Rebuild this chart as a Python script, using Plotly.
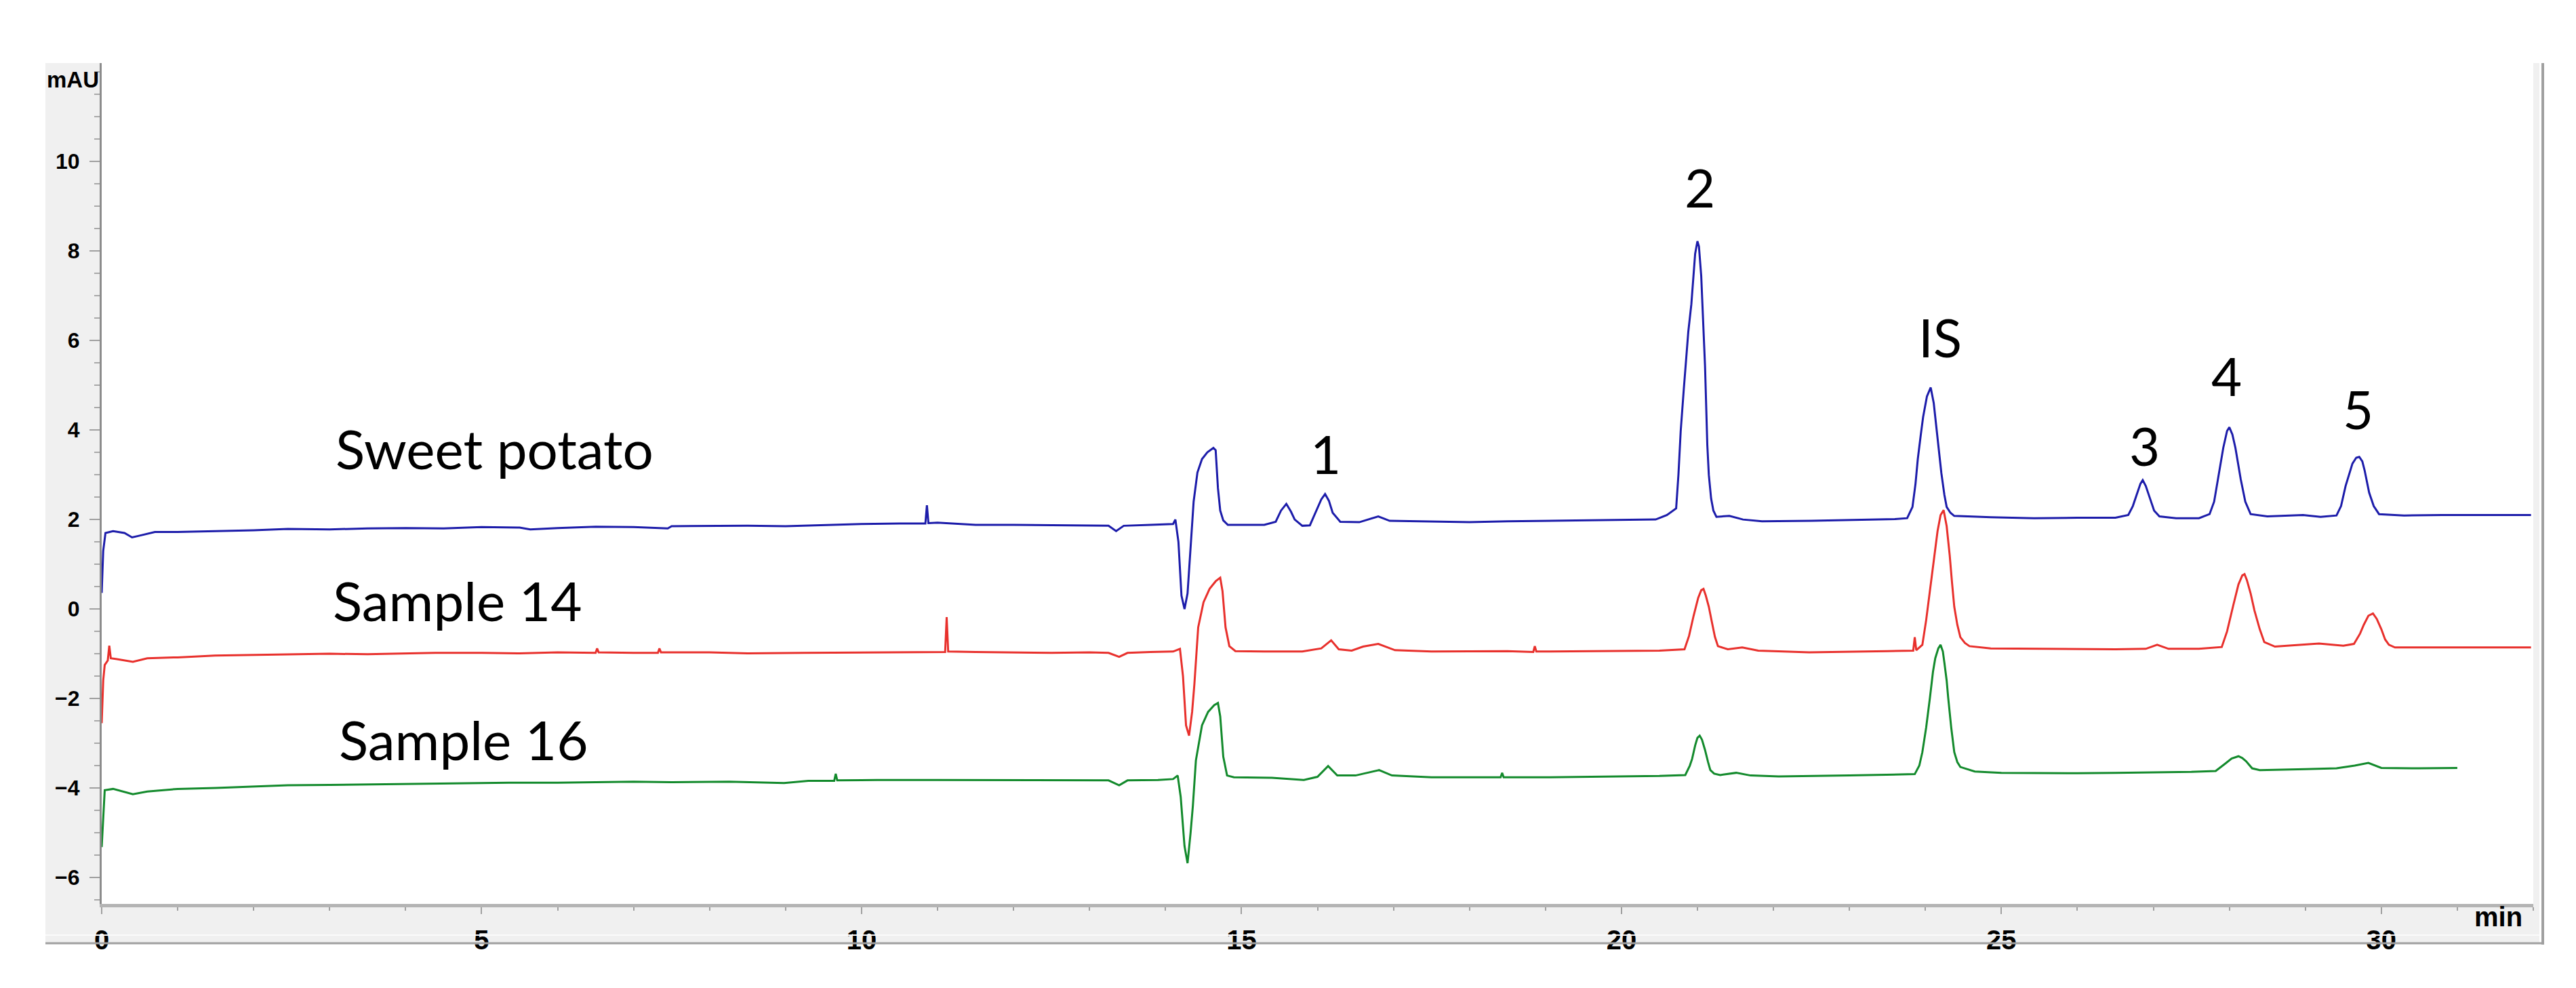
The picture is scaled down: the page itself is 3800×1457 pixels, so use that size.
import plotly.graph_objects as go

# ---------------- data ----------------
blue_t = [0.00, 0.02, 0.05, 0.15, 0.30, 0.40, 0.50, 0.70, 1.0, 1.5, 2.0, 2.45, 3.0, 3.5, 4.0, 4.5,
          5.0, 5.5, 5.64, 6.0, 6.5, 7.0, 7.45, 7.5, 8.0, 8.5, 9.0, 9.5, 10.0, 10.5, 10.84, 10.86,
          10.88, 11.0, 11.5, 12.0, 12.5, 13.0, 13.25, 13.35, 13.45, 13.8, 14.10, 14.13, 14.17,
          14.21, 14.25, 14.29, 14.33, 14.37, 14.42, 14.48, 14.55, 14.63, 14.66, 14.69, 14.72,
          14.76, 14.82, 15.0, 15.3, 15.45, 15.52, 15.59, 15.65, 15.70, 15.80, 15.90, 16.00, 16.05,
          16.10, 16.15, 16.20, 16.30, 16.55, 16.80, 16.95, 17.5, 18.0, 18.5, 19.0, 19.5, 20.0,
          20.45, 20.60, 20.72, 20.75, 20.78, 20.82, 20.85, 20.88, 20.92, 20.95, 20.97, 21.00,
          21.02, 21.05, 21.07, 21.10, 21.13, 21.15, 21.18, 21.21, 21.25, 21.42, 21.60, 21.85,
          22.5, 23.15, 23.6, 23.76, 23.83, 23.87, 23.90, 23.94, 23.97, 24.02, 24.07, 24.11,
          24.14, 24.18, 24.21, 24.25, 24.28, 24.33, 24.38, 24.86, 25.43, 26.0, 26.5, 26.67,
          26.73, 26.78, 26.83, 26.86, 26.90, 26.95, 27.01, 27.08, 27.3, 27.6, 27.74, 27.80,
          27.85, 27.92, 27.97, 28.00, 28.04, 28.08, 28.15, 28.21, 28.28, 28.5, 28.97, 29.2,
          29.41, 29.47, 29.53, 29.62, 29.67, 29.71, 29.75, 29.78, 29.84, 29.90, 29.97, 30.3,
          30.8, 31.3, 31.97]
blue_v = [0.36, 1.30, 1.70, 1.74, 1.70, 1.60, 1.64, 1.72, 1.72, 1.74, 1.76, 1.79, 1.78, 1.80, 1.81,
          1.80, 1.83, 1.82, 1.78, 1.81, 1.84, 1.83, 1.80, 1.85, 1.86, 1.86, 1.85, 1.88, 1.90, 1.91,
          1.91, 2.32, 1.92, 1.93, 1.88, 1.88, 1.87, 1.87, 1.86, 1.74, 1.86, 1.88, 1.90, 2.00,
          1.50, 0.30, 0.00, 0.35, 1.30, 2.40, 3.05, 3.35, 3.50, 3.60, 3.55, 2.70, 2.20, 1.98,
          1.88, 1.88, 1.88, 1.95, 2.20, 2.35, 2.18, 2.00, 1.86, 1.87, 2.25, 2.45, 2.57, 2.42,
          2.15, 1.95, 1.94, 2.07, 1.97, 1.95, 1.94, 1.96, 1.97, 1.98, 1.99, 2.00, 2.10, 2.25,
          3.00, 3.98, 4.90, 5.55, 6.20, 6.81, 7.50, 7.94, 8.22, 8.10, 7.44, 6.60, 5.43, 3.67,
          3.00, 2.47, 2.20, 2.06, 2.08, 2.00, 1.96, 1.97, 2.00, 2.01, 2.03, 2.28, 2.80, 3.35,
          3.90, 4.29, 4.75, 4.95, 4.60, 4.10, 3.50, 3.04, 2.55, 2.28, 2.15, 2.08, 2.05, 2.03,
          2.04, 2.04, 2.10, 2.30, 2.55, 2.80, 2.88, 2.75, 2.50, 2.20, 2.07, 2.03, 2.03, 2.12,
          2.40, 2.90, 3.60, 3.98, 4.06, 3.90, 3.60, 2.90, 2.40, 2.12, 2.07, 2.10, 2.06, 2.09,
          2.30, 2.75, 3.25, 3.38, 3.40, 3.30, 3.10, 2.60, 2.30, 2.12, 2.09, 2.10, 2.10, 2.10]

red_t = [0.00, 0.02, 0.04, 0.08, 0.10, 0.12, 0.20, 0.41, 0.60, 1.0, 1.49, 2.0, 2.5, 3.0, 3.5, 4.0,
         4.39, 5.0, 5.5, 6.0, 6.50, 6.52, 6.54, 7.0, 7.32, 7.34, 7.36, 8.0, 8.5, 9.24, 10.0, 10.5,
         11.10, 11.12, 11.14, 11.5, 12.0, 12.5, 13.0, 13.25, 13.39, 13.5, 13.8, 14.10, 14.19,
         14.23, 14.27, 14.31, 14.35, 14.38, 14.43, 14.50, 14.58, 14.66, 14.72, 14.75, 14.79,
         14.84, 14.92, 15.3, 15.8, 16.05, 16.18, 16.28, 16.45, 16.6, 16.8, 17.02, 17.5, 18.0,
         18.5, 18.84, 18.86, 18.88, 19.5, 20.0, 20.5, 20.83, 20.89, 20.95, 21.01, 21.05, 21.08,
         21.11, 21.15, 21.19, 21.23, 21.27, 21.40, 21.59, 21.80, 22.47, 23.0, 23.5, 23.84,
         23.86, 23.88, 23.96, 24.01, 24.06, 24.11, 24.16, 24.20, 24.24, 24.28, 24.32, 24.35,
         24.38, 24.42, 24.46, 24.52, 24.58, 24.86, 25.5, 26.0, 26.5, 26.9, 27.05, 27.2, 27.6,
         27.90, 27.97, 28.05, 28.12, 28.17, 28.20, 28.23, 28.28, 28.33, 28.40, 28.46, 28.6,
         29.18, 29.5, 29.64, 29.72, 29.77, 29.83, 29.89, 29.94, 30.00, 30.05, 30.10, 30.18,
         30.6, 31.0, 31.5, 31.97]
red_v = [-2.55, -1.60, -1.25, -1.15, -0.82, -1.10, -1.12, -1.18, -1.10, -1.08, -1.04, -1.03,
         -1.02, -1.00, -1.01, -0.99, -0.98, -0.98, -0.99, -0.97, -0.98, -0.88, -0.97, -0.98,
         -0.98, -0.88, -0.97, -0.97, -0.99, -0.98, -0.97, -0.96, -0.96, -0.18, -0.95, -0.96,
         -0.97, -0.98, -0.97, -0.98, -1.07, -0.98, -0.96, -0.95, -0.89, -1.50, -2.60, -2.83,
         -2.30, -1.68, -0.41, 0.15, 0.45, 0.62, 0.70, 0.40, -0.41, -0.83, -0.94, -0.95, -0.95,
         -0.88, -0.70, -0.90, -0.93, -0.84, -0.78, -0.92, -0.95, -0.95, -0.94, -0.96, -0.83,
         -0.95, -0.94, -0.94, -0.93, -0.90, -0.60, -0.15, 0.25, 0.42, 0.45, 0.30, 0.05, -0.29,
         -0.62, -0.83, -0.90, -0.86, -0.93, -0.97, -0.95, -0.94, -0.93, -0.63, -0.92, -0.80,
         -0.25, 0.39, 1.10, 1.74, 2.10, 2.21, 1.85, 1.20, 0.60, 0.05, -0.35, -0.63, -0.76,
         -0.83, -0.88, -0.89, -0.90, -0.90, -0.89, -0.80, -0.89, -0.89, -0.85, -0.50, 0.07,
         0.55, 0.75, 0.78, 0.65, 0.35, -0.03, -0.45, -0.74, -0.84, -0.77, -0.82, -0.78, -0.55,
         -0.35, -0.15, -0.10, -0.22, -0.45, -0.68, -0.80, -0.86, -0.86, -0.86, -0.85, -0.86]

green_t = [0.00, 0.02, 0.04, 0.15, 0.41, 0.6, 1.0, 1.5, 2.0, 2.45, 3.0, 3.5, 4.0, 5.0, 5.36, 6.0,
           6.5, 7.0, 7.5, 8.26, 8.98, 9.3, 9.64, 9.66, 9.68, 10.2, 11.0, 12.0, 12.5, 13.25, 13.39,
           13.5, 13.9, 14.10, 14.16, 14.20, 14.25, 14.29, 14.33, 14.36, 14.40, 14.48, 14.56,
           14.64, 14.69, 14.72, 14.76, 14.81, 14.90, 15.4, 15.82, 16.00, 16.14, 16.26, 16.5,
           16.81, 16.98, 17.5, 18.0, 18.41, 18.43, 18.45, 19.0, 19.5, 20.0, 20.5, 20.84, 20.90,
           20.93, 20.97, 21.00, 21.03, 21.06, 21.10, 21.14, 21.17, 21.22, 21.30, 21.51, 21.7,
           22.07, 23.0, 23.86, 23.92, 23.96, 24.01, 24.06, 24.10, 24.13, 24.17, 24.20, 24.23,
           24.25, 24.28, 24.30, 24.34, 24.38, 24.42, 24.46, 24.65, 25.0, 25.5, 26.0, 26.5, 27.0,
           27.5, 27.82, 27.90, 27.95, 28.03, 28.12, 28.17, 28.22, 28.30, 28.40, 29.0, 29.41,
           29.65, 29.83, 30.0, 30.5, 31.0]
green_v = [-5.32, -4.60, -4.05, -4.02, -4.14, -4.08, -4.02, -4.00, -3.97, -3.94, -3.93, -3.92,
           -3.90, -3.89, -3.88, -3.88, -3.87, -3.86, -3.87, -3.86, -3.89, -3.84, -3.84, -3.68,
           -3.83, -3.82, -3.82, -3.82, -3.83, -3.83, -3.94, -3.83, -3.82, -3.80, -3.72, -4.20,
           -5.30, -5.68, -5.00, -4.40, -3.38, -2.60, -2.30, -2.15, -2.10, -2.40, -3.30, -3.72,
           -3.76, -3.77, -3.82, -3.75, -3.51, -3.72, -3.72, -3.60, -3.72, -3.76, -3.76, -3.76,
           -3.66, -3.76, -3.76, -3.75, -3.74, -3.73, -3.71, -3.50, -3.35, -3.05, -2.88, -2.83,
           -2.92, -3.15, -3.42, -3.60, -3.68, -3.71, -3.66, -3.72, -3.74, -3.72, -3.69, -3.50,
           -3.20, -2.65, -1.98, -1.40, -1.10, -0.88, -0.80, -0.95, -1.20, -1.60, -1.98, -2.65,
           -3.20, -3.42, -3.53, -3.63, -3.66, -3.67, -3.67, -3.66, -3.65, -3.64, -3.62, -3.52,
           -3.45, -3.34, -3.29, -3.33, -3.40, -3.56, -3.60, -3.58, -3.56, -3.50, -3.44, -3.55,
           -3.56, -3.55]

sample_names = ["Sweet potato", "Sample 14", "Sample 16"]
peak_labels = ["1", "2", "IS", "3", "4", "5"]

y_tick_vals = [-6, -4, -2, 0, 2, 4, 6, 8, 10]
y_tick_text = ["\u22126", "\u22124", "\u22122", "0", "2", "4", "6", "8", "10"]
x_tick_vals = [0, 5, 10, 15, 20, 25, 30]
x_tick_text = ["0", "5", "10", "15", "20", "25", "30"]

# ---------------- styling / layout ----------------
OFF = 8  # the page body has an 8px margin; compensate
W, H = 3800 - OFF, 1457 - OFF
L, R, T, B = 150, 3737, 93, 1333  # plot area in (screen) pixels


def px(xp):
    return (xp - L) / (R - L)


def py(yp):
    return (B - yp) / (B - T)


colors = ["#1c1caa", "#e8302c", "#138a2c"]
series = [(blue_t, blue_v), (red_t, red_v), (green_t, green_v)]

fig = go.Figure()
for (t, v), c, n in zip(series, colors, sample_names):
    fig.add_trace(go.Scatter(x=t, y=v, mode="lines", name=n,
                             line=dict(color=c, width=3), showlegend=False))

text_font = dict(family="Lato", size=80, color="black")
name_pos = [(5.17, 3.59), (4.68, 0.20), (4.76, -2.91)]
for n, (x, y) in zip(sample_names, name_pos):
    fig.add_annotation(x=x, y=y, text=n, showarrow=False, font=text_font,
                       xanchor="center", yanchor="middle")
peak_pos = [(16.11, 3.47), (21.03, 9.42), (24.19, 6.08), (26.88, 3.65), (27.96, 5.21), (29.69, 4.47)]
for n, (x, y) in zip(peak_labels, peak_pos):
    fig.add_annotation(x=x, y=y, text=n, showarrow=False, font=dict(text_font, size=78),
                       xanchor="center", yanchor="middle")

axis_font = dict(family="Liberation Sans", color="black", weight="bold")
fig.add_annotation(xref="paper", yref="paper", x=px(107), y=py(118), text="mAU",
                   showarrow=False, font=dict(axis_font, size=33),
                   xanchor="center", yanchor="middle")
fig.add_annotation(xref="paper", yref="paper", x=px(3685), y=py(1352), text="min",
                   showarrow=False, font=dict(axis_font, size=40),
                   xanchor="center", yanchor="middle")

panel = "#f0f0f0"
border = "#a0a0a0"
shapes = [
    dict(type="rect", xref="paper", yref="paper", x0=px(67), x1=px(150), y0=py(1390), y1=py(93),
         fillcolor=panel, line=dict(width=0), layer="below"),
    dict(type="rect", xref="paper", yref="paper", x0=px(150), x1=px(3746), y0=py(1390), y1=py(1333),
         fillcolor=panel, line=dict(width=0), layer="below"),
    dict(type="rect", xref="paper", yref="paper", x0=px(3737), x1=px(3746), y0=py(1390), y1=py(93),
         fillcolor=panel, line=dict(width=0), layer="below"),
    dict(type="line", xref="paper", yref="paper", x0=px(67), x1=px(3746), y0=py(1379), y1=py(1379),
         line=dict(color="#fbfbfb", width=2)),
    dict(type="line", xref="paper", yref="paper", x0=px(3751), x1=px(3751), y0=py(1393), y1=py(93),
         line=dict(color=border, width=4)),
    dict(type="line", xref="paper", yref="paper", x0=px(67), x1=px(3753), y0=py(1391), y1=py(1391),
         line=dict(color=border, width=3)),
]

fig.update_layout(
    width=W, height=H,
    margin=dict(l=L - OFF, r=3800 - R, t=T - OFF, b=1457 - B, pad=0),
    paper_bgcolor="white", plot_bgcolor="white",
    shapes=shapes,
    xaxis=dict(range=[0, 32.0], showgrid=False, zeroline=False, automargin=False,
               showline=True, linecolor="#b4b4b4", linewidth=5,
               tickmode="array", tickvals=x_tick_vals, ticktext=x_tick_text,
               ticks="outside", ticklen=10, tickwidth=2, tickcolor="#a0a0a0",
               tickfont=dict(axis_font, size=40), ticklabelstandoff=4,
               minor=dict(dtick=1, ticks="outside", ticklen=5, tickwidth=2, tickcolor="#a0a0a0",
                          showgrid=False)),
    yaxis=dict(range=[-6.59, 12.2], showgrid=False, zeroline=False, automargin=False,
               showline=True, linecolor="#8c8c8c", linewidth=3,
               tickmode="array", tickvals=y_tick_vals, ticktext=y_tick_text,
               ticks="outside", ticklen=15, tickwidth=2, tickcolor="#a0a0a0",
               tickfont=dict(axis_font, size=32), ticklabelstandoff=8,
               minor=dict(dtick=0.5, ticks="outside", ticklen=8, tickwidth=2, tickcolor="#a8a8a8",
                          showgrid=False)),
)

fig.write_html("out.html")
